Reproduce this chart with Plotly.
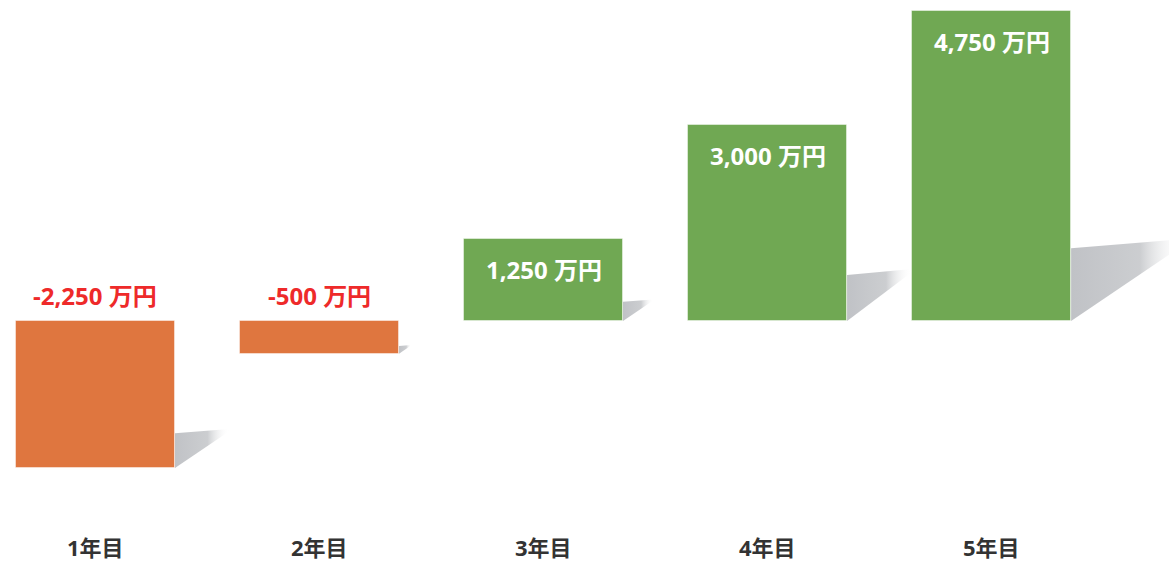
import plotly.graph_objects as go

categories = ["1年目", "2年目", "3年目", "4年目", "5年目"]
values = [-2250, -500, 1250, 3000, 4750]
value_labels = ["-2,250 万円", "-500 万円", "1,250 万円", "3,000 万円", "4,750 万円"]

ORANGE = "#df763f"
GREEN = "#70a853"
RED = "#ee2a2a"
BAR_W = 0.71
FONT = "Open Sans, Noto Sans CJK JP"

# pixel scale helpers (data units per pixel) for shadow geometry
Y_RANGE = [-3692, 4918]
X_RANGE = [-0.426, 4.792]
y_per_px = (Y_RANGE[1] - Y_RANGE[0]) / 562
x_per_px = (X_RANGE[1] - X_RANGE[0]) / 1169

fig = go.Figure()

# soft shadows behind the bars
for i, v in enumerate(values):
    a = abs(v)
    yb = min(0, v)
    xr = i + BAR_W / 2
    L = 0.37 * (a / y_per_px) * x_per_px
    if i + 1 < len(values):
        L = min(L, (i + 1 - BAR_W / 2) - xr)
    xs = [xr, xr, xr + L, xr + L, xr]
    ys = [yb, yb + 0.235 * a, yb + 0.265 * a, yb + 0.25 * a, yb]
    fig.add_trace(go.Scatter(
        x=xs, y=ys, fill="toself", mode="lines", line=dict(width=0),
        fillgradient=dict(type="horizontal", colorscale=[
            [0, "rgba(192,194,198,1)"], [0.6, "rgba(198,200,203,0.9)"],
            [1, "rgba(255,255,255,0)"]]),
        hoverinfo="skip", showlegend=False,
    ))

fig.add_trace(go.Bar(
    x=list(range(len(categories))), y=values, width=BAR_W,
    marker=dict(color=[ORANGE if v < 0 else GREEN for v in values],
                line=dict(width=1, color="rgba(255,255,255,0.45)")),
    showlegend=False, hoverinfo="skip",
))

for i, (v, t) in enumerate(zip(values, value_labels)):
    if v < 0:
        fig.add_annotation(x=i, y=0, text=f"<b>{t}</b>", showarrow=False,
                           yanchor="bottom", yshift=7,
                           font=dict(family=FONT, size=24, color=RED))
    else:
        fig.add_annotation(x=i, y=v, text=f"<b>{t}</b>", showarrow=False,
                           yanchor="top", yshift=-12,
                           font=dict(family=FONT, size=24, color="white"))

for i, c in enumerate(categories):
    fig.add_annotation(x=i, y=0.026, yref="paper", text=f"<b>{c}</b>",
                       showarrow=False, yanchor="middle",
                       font=dict(family=FONT, size=22, color="#333333"))

fig.update_layout(
    width=1169, height=562,
    margin=dict(l=0, r=0, t=0, b=0),
    paper_bgcolor="white", plot_bgcolor="white",
    xaxis=dict(range=X_RANGE, visible=False, showgrid=False, zeroline=False),
    yaxis=dict(range=Y_RANGE, visible=False, showgrid=False, zeroline=False),
    bargap=0,
)

fig.write_html("out.html")
